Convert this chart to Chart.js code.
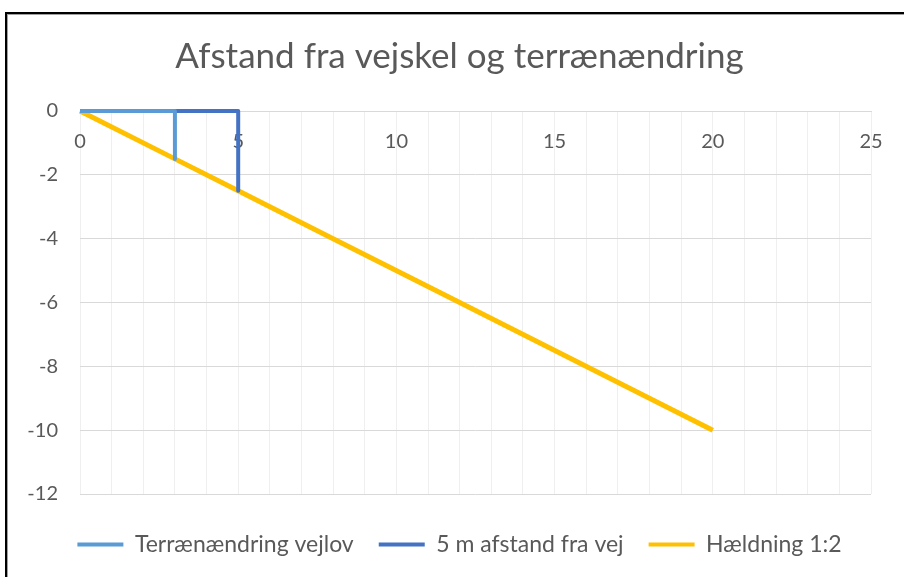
<!DOCTYPE html>
<html>
<head>
<meta charset="utf-8">
<script src="https://cdn.jsdelivr.net/npm/chart.js@4"></script>
<style>
    html, body { margin: 0; padding: 0; background: #fff; }
    #wrap { position: relative; width: 904px; height: 577px; overflow: hidden; }
    #frame {
        position: absolute; left: 5px; top: 12px; width: 910px; height: 580px;
        border-left: 2px solid #000; border-top: 2px solid #000;
        box-shadow: inset 1px 1px 0 #a0a0a0;
    }
    canvas { position: absolute; left: 0; top: 0; }
</style>
</head>
<body>
<div id="wrap">
    <div id="frame"></div>
    <canvas id="chart" width="904" height="577"></canvas>
</div>
<script>
// serie-navne
const seriesNames = ['Terrænændring vejlov', '5 m afstand fra vej', 'Hældning 1:2'];

// Terrænændring vejlov
const vejlovX = [0, 3, 3];
const vejlovY = [0, 0, -1.5];

// 5 m afstand fra vej
const afstandX = [0, 5, 5];
const afstandY = [0, 0, -2.5];

// Hældning 1:2
const haeldX = [0, 3, 5, 8, 12, 20];
const haeldY = [0, -1.5, -2.5, -4, -6, -10];

const xTicks = [0, 5, 10, 15, 20, 25];
const yTicks = [0, -2, -4, -6, -8, -10, -12];

const colors = ['#5B9BD5', '#4472C4', '#FFC000'];
const widths = [4, 4, 5];

const textColor = '#595959';
const fontFam = 'Lato, "Open Sans", sans-serif';

function toPoints(xs, ys) {
    return xs.map((x, i) => ({ x: x, y: ys[i] }));
}

const seriesData = [
    toPoints(vejlovX, vejlovY),
    toPoints(afstandX, afstandY),
    toPoints(haeldX, haeldY)
];

// venstre padding styrer hvor titel/forklaring centreres
const PAD_LEFT = 48;

new Chart(document.getElementById('chart'), {
    type: 'scatter',
    data: {
        datasets: seriesData.map((pts, i) => ({
            label: seriesNames[i],
            data: pts,
            showLine: true,
            clip: false,
            borderColor: colors[i],
            backgroundColor: colors[i],
            borderWidth: widths[i],
            pointRadius: 0,
            pointHoverRadius: 0,
            borderJoinStyle: 'round',
            borderCapStyle: 'butt'
        }))
    },
    options: {
        responsive: false,
        animation: false,
        layout: { padding: { left: PAD_LEFT, right: 33, top: 12, bottom: 11 } },
        plugins: {
            title: {
                display: true,
                text: 'Afstand fra vejskel og terrænændring',
                color: textColor,
                font: { family: fontFam, size: 35, weight: 'normal' },
                padding: { top: 24, bottom: 33 }
            },
            legend: {
                position: 'bottom',
                // tom titel = ekstra luft over forklaringen
                title: { display: true, text: ' ', font: { size: 1, lineHeight: 1 }, padding: { top: 13, bottom: 0 } },
                labels: {
                    color: textColor,
                    font: { family: fontFam, size: 23 },
                    boxWidth: 46,
                    boxHeight: 4,
                    padding: 25,
                    generateLabels: chart => Chart.defaults.plugins.legend.labels.generateLabels(chart)
                        .map(l => ({ ...l, lineWidth: 0 }))
                }
            },
            tooltip: { enabled: false }
        },
        scales: {
            x: {
                type: 'linear',
                position: { y: 0 },
                min: 0,
                max: 25,
                afterBuildTicks: axis => {
                    const t = [];
                    for (let v = 0; v <= 25; v++) t.push({ value: v });
                    axis.ticks = t;
                },
                ticks: {
                    color: textColor,
                    font: { family: fontFam, size: 20 },
                    padding: 19,
                    maxRotation: 0,
                    autoSkip: false,
                    callback: v => xTicks.includes(v) ? String(v) : ''
                },
                grid: { color: '#efefef', lineWidth: 1, drawTicks: false },
                border: { display: true, color: '#d9d9d9', width: 1 }
            },
            y: {
                type: 'linear',
                min: -12,
                max: 0,
                afterBuildTicks: axis => { axis.ticks = yTicks.map(v => ({ value: v })); },
                afterFit: scale => {
                    scale.width = 80 - PAD_LEFT;
                    // etiketterne må gerne gå ud over aksens smalle boks
                    scale._computeLabelArea = () => undefined;
                },
                ticks: {
                    color: textColor,
                    font: { family: fontFam, size: 20 },
                    padding: 22
                },
                grid: { color: '#d9d9d9', lineWidth: 1, drawTicks: false },
                border: { display: false }
            }
        }
    }
});
</script>
</body>
</html>
